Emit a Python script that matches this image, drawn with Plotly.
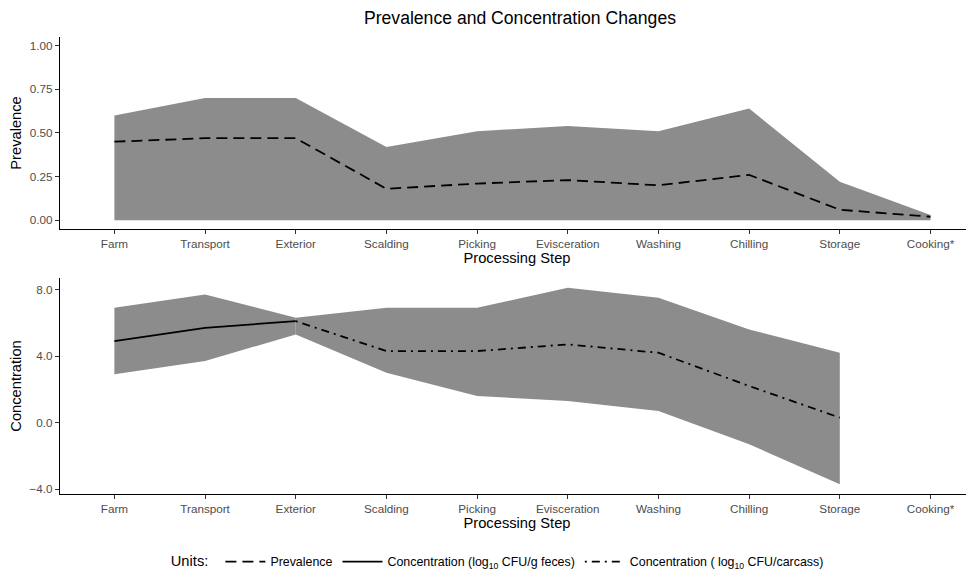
import plotly.graph_objects as go

steps = ["Farm", "Transport", "Exterior", "Scalding", "Picking", "Evisceration",
         "Washing", "Chilling", "Storage", "Cooking*"]

prev_mean = [0.45, 0.47, 0.47, 0.18, 0.21, 0.23, 0.20, 0.26, 0.06, 0.02]
prev_low = [0.0, 0.0, 0.0, 0.0, 0.0, 0.0, 0.0, 0.0, 0.0, 0.0]
prev_high = [0.60, 0.70, 0.70, 0.42, 0.51, 0.54, 0.51, 0.64, 0.22, 0.03]

feces_steps = ["Farm", "Transport", "Exterior"]
feces_mean = [4.9, 5.7, 6.1]
feces_low = [2.9, 3.7, 5.3]
feces_high = [6.9, 7.7, 6.3]

carcass_steps = ["Exterior", "Scalding", "Picking", "Evisceration", "Washing", "Chilling", "Storage"]
carcass_mean = [6.1, 4.3, 4.3, 4.7, 4.2, 2.2, 0.3]
carcass_low = [5.3, 3.0, 1.6, 1.3, 0.7, -1.3, -3.7]
carcass_high = [6.3, 6.9, 6.9, 8.1, 7.5, 5.6, 4.2]

FILL = "#8c8c8c"
FONT = "Liberation Sans, Arial, sans-serif"

fig = go.Figure()


def ribbon(x, lo, hi, xa, ya):
    fig.add_trace(go.Scatter(x=x, y=lo, mode="lines", line=dict(width=0, color=FILL),
                             showlegend=False, hoverinfo="skip", xaxis=xa, yaxis=ya))
    fig.add_trace(go.Scatter(x=x, y=hi, mode="lines", line=dict(width=0, color=FILL),
                             fill="tonexty", fillcolor=FILL,
                             showlegend=False, hoverinfo="skip", xaxis=xa, yaxis=ya))


ribbon(steps, prev_low, prev_high, "x", "y")
ribbon(feces_steps, feces_low, feces_high, "x2", "y2")
ribbon(carcass_steps, carcass_low, carcass_high, "x2", "y2")

fig.add_trace(go.Scatter(x=steps, y=prev_mean, mode="lines", name="Prevalence",
                         line=dict(color="black", width=1.8, dash="11px,6px"),
                         xaxis="x", yaxis="y"))
fig.add_trace(go.Scatter(x=feces_steps, y=feces_mean, mode="lines",
                         name="Concentration (log<sub>10</sub> CFU/g feces)",
                         line=dict(color="black", width=1.8),
                         xaxis="x2", yaxis="y2"))
fig.add_trace(go.Scatter(x=carcass_steps, y=carcass_mean, mode="lines",
                         name="Concentration ( log<sub>10</sub> CFU/carcass)",
                         line=dict(color="black", width=1.8, dash="2px,5px,8px,5px"),
                         xaxis="x2", yaxis="y2"))

xcommon = dict(type="category", categoryorder="array", categoryarray=steps,
               range=[-0.6, 9.48], showline=True, linecolor="black", linewidth=1.1,
               ticks="outside", ticklen=4, tickcolor="#333333", tickwidth=1.1,
               showgrid=False, zeroline=False, automargin=False,
               tickfont=dict(size=11.7, color="#4d4d4d", family=FONT),
               title=dict(text="Processing Step", font=dict(size=14.7, color="black", family=FONT),
                          standoff=2))
ycommon = dict(showline=True, linecolor="black", linewidth=1.1,
               ticks="outside", ticklen=4, tickcolor="#333333", tickwidth=1.1,
               showgrid=False, zeroline=False, automargin=False,
               tickfont=dict(size=11.7, color="#4d4d4d", family=FONT))

fig.update_layout(
    width=966, height=565,
    margin=dict(l=52, r=0, t=29, b=79, autoexpand=False),
    paper_bgcolor="white", plot_bgcolor="white",
    font=dict(family=FONT, color="black"),
    title=dict(text="Prevalence and Concentration Changes", x=0.530, xanchor="center",
               y=1 - 10 / 565, yanchor="middle", yref="container",
               font=dict(size=17.6, color="black", family=FONT)),
    xaxis=dict(domain=[0, 1], anchor="y", **xcommon),
    yaxis=dict(domain=[0.58, 1.0], anchor="x", range=[-0.05, 1.05],
               tickvals=[0, 0.25, 0.5, 0.75, 1.0], tickformat=".2f",
               title=dict(text="Prevalence", font=dict(size=14.7, color="black", family=FONT),
                          standoff=5),
               **ycommon),
    xaxis2=dict(domain=[0, 1], anchor="y2", **xcommon),
    yaxis2=dict(domain=[0, 0.4726], anchor="x2", range=[-4.29, 8.69],
                tickvals=[-4, 0, 4, 8], tickformat=".1f",
                title=dict(text="Concentration", font=dict(size=14.7, color="black", family=FONT),
                           standoff=5),
                **ycommon),
    legend=dict(orientation="h", x=0.119, xanchor="left", y=-0.149, yanchor="middle",
                itemwidth=40,
                title=dict(text="Units: ", side="left", font=dict(size=14.7, color="black", family=FONT)),
                font=dict(size=12.4, color="black", family=FONT),
                bgcolor="rgba(0,0,0,0)", traceorder="normal"),
    showlegend=True,
)

fig.write_html("out.html")
